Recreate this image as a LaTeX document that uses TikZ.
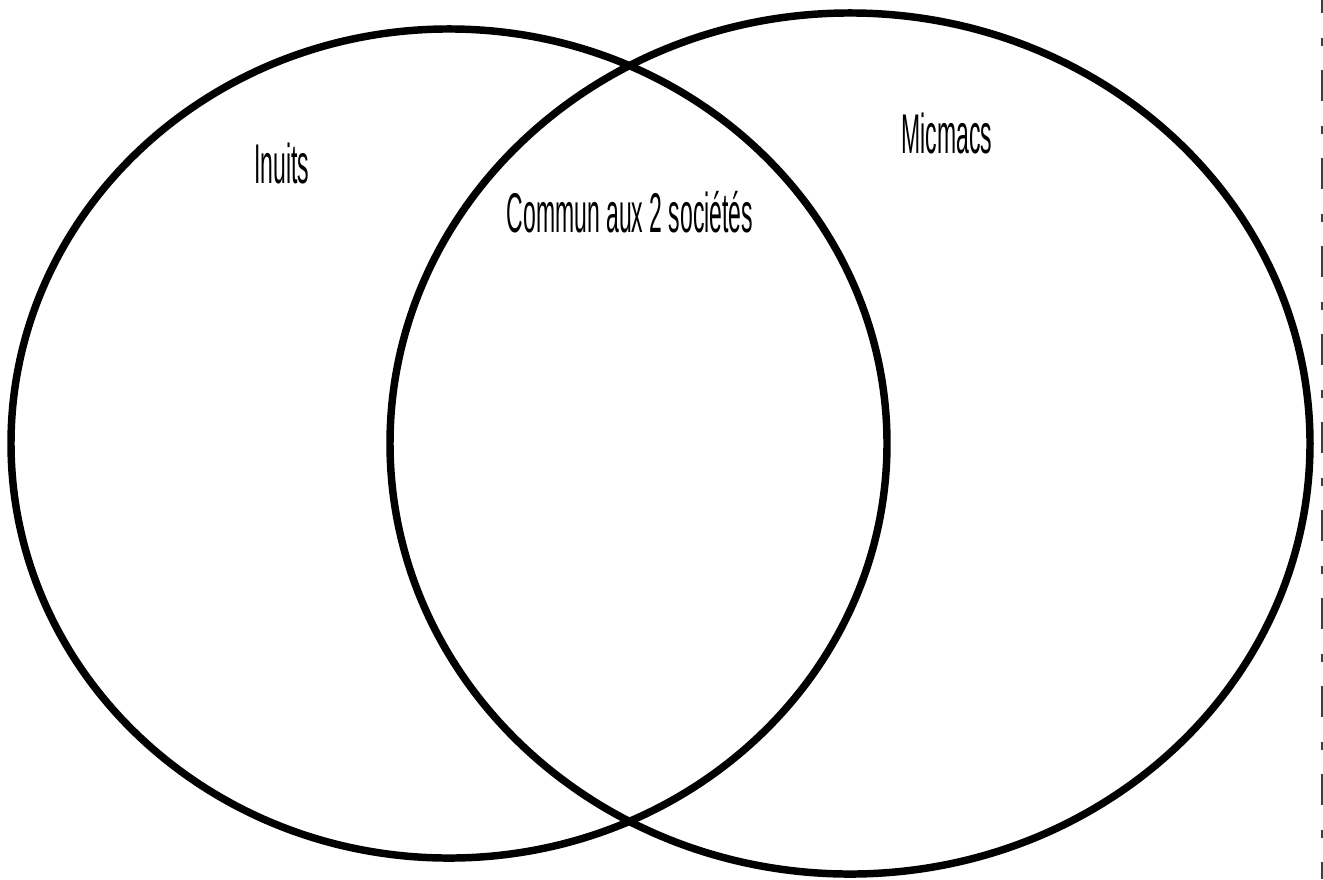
\documentclass[tikz,border=0pt]{standalone}
\usepackage{fontspec}
\newfontfamily\handfont[FakeStretch=0.41]{Liberation Sans}
\usetikzlibrary{positioning}

\begin{document}
\begin{tikzpicture}[x=0.75pt,y=-0.75pt,
      venn/.style={draw=black,line width=5.6pt},
      lab/.style={font=\handfont\fontsize{42}{46}\selectfont,inner sep=0pt},
      cutline/.style={draw=black!75,line width=1.6pt,
        dash pattern=on 23.25pt off 18.75pt on 6pt off 18pt,dash phase=13.5pt}]
      \useasboundingbox (0,0) rectangle (1323,879);
      % the two sets
      \draw[venn] (449,443.5) ellipse [x radius=328.5pt,y radius=310.9pt];
      \draw[venn] (850,443.5) ellipse [x radius=345pt,y radius=322.9pt];
      % labels
      \node[lab] (inuits) at (282,163) {Inuits};
      \node[lab] (commun) at (630,212) {Commun aux 2 sociétés};
      \node[lab] (micmacs) at (947,133) {Micmacs};
      % cut edge
      \coordinate (cut-top) at (1322,0);
      \coordinate (cut-bot) at (1322,879);
      \draw[cutline] (cut-top)--(cut-bot);
    \end{tikzpicture}
\end{document}
